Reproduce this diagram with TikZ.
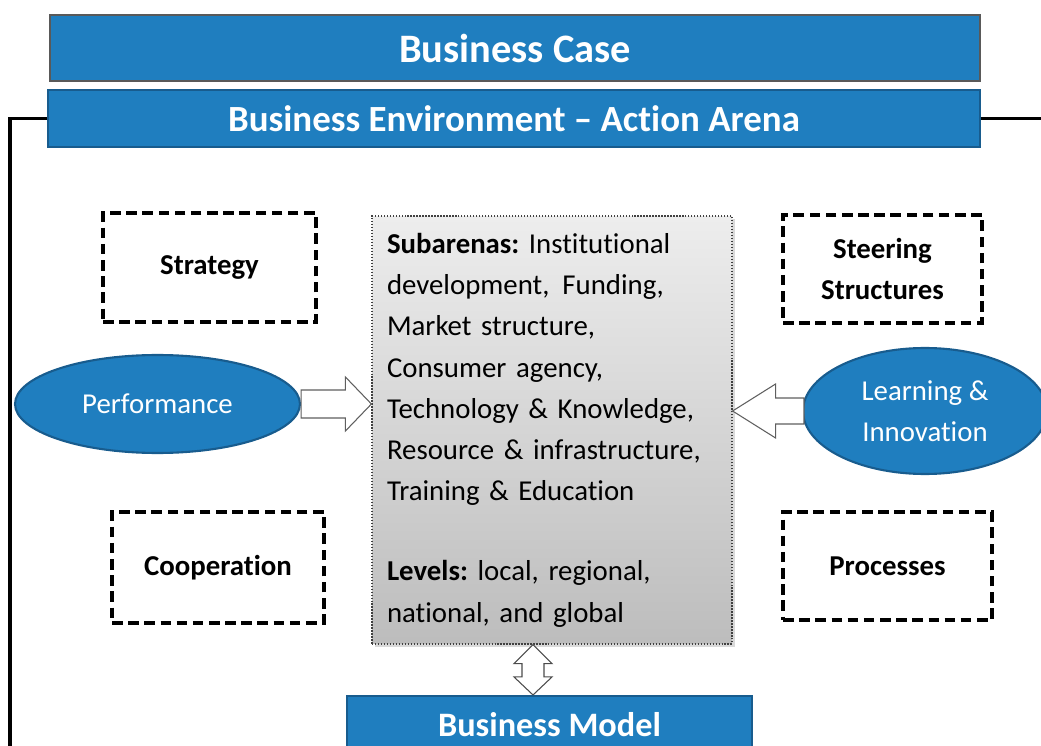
\documentclass[tikz,border=0pt]{standalone}
\usepackage{fontspec}
\setmainfont{Carlito}[RawFeature={-liga;-clig;-dlig;-calt}]
\usetikzlibrary{shapes.geometric,shadows,calc}
\definecolor{barblue}{RGB}{31,126,191}
\definecolor{bardark}{RGB}{24,92,142}
\definecolor{arrowgray}{RGB}{95,95,95}
\frenchspacing
\begin{document}
\begin{tikzpicture}[x=0.02cm,y=-0.02cm,
  bar/.style={fill=barblue, text=white, line width=0.8pt, inner sep=0pt},
  dashbox/.style={draw, line width=2pt, dash pattern=on 6pt off 3.2pt, align=center,
    font=\fontsize{16.4}{23.8}\selectfont\bfseries},
  blob/.style={ellipse, draw=bardark, line width=1.2pt, fill=barblue, text=white, inner sep=0pt,
    align=center, font=\fontsize{16.4}{23.5}\selectfont},
  arena/.style={draw=black!75, densely dotted, line width=0.7pt, top color=gray!14, bottom color=gray!52,
    drop shadow={opacity=0.3, shadow xshift=1.5pt, shadow yshift=-1.5pt},
    inner xsep=0.3cm, align=left, font=\fontsize{16.4}{23.5}\selectfont},
  blockarrow/.style={draw=arrowgray, fill=white, line width=0.6pt, line join=miter},
  frame/.style={line width=2pt}]

\useasboundingbox (0,0) rectangle (1041,746);

\node[bar, draw=black!65, minimum width=18.6cm, minimum height=1.32cm,
  font=\fontsize{23}{28}\selectfont\bfseries] (case) at (515,48) {Business Case};
\node[bar, draw=bardark, line width=1.2pt, minimum width=18.64cm, minimum height=1.14cm,
  font=\fontsize{21}{26}\selectfont\bfseries] (env) at (514,118.5) {Business Environment -- Action Arena};

\coordinate (frameL) at (10,746);
\coordinate (frameR) at (1041,118.5);
\draw[frame] (env.west) -| (frameL);
\draw[frame] (env.east) -- (frameR);

\foreach \n/\x/\y/\w/\h/\t in {strat/209.5/267.5/4.26/2.18/Strategy,
    steer/882.5/269/3.98/2.16/{Steering\\Structures},
    coop/218/567.5/4.24/2.22/Cooperation,
    proc/887.5/566/4.18/2.16/Processes}
  \node[dashbox, minimum width=\w cm, minimum height=\h cm] (\n) at (\x,\y) {\t};

\node[arena, minimum width=7.2cm, minimum height=8.56cm, text width=6.6cm] (arena) at (552,430)
  {\textbf{Subarenas:} Institutional\\development,\hspace{0.45em}Funding,\\Market structure,\\Consumer agency,\\
   Technology \& Knowledge,\\Resource \& infrastructure,\\Training \& Education\\[22pt]
   \textbf{Levels:} local, regional,\\national, and global};

\node[blob, minimum width=5.7cm, minimum height=1.96cm] (perf) at (157.5,404) {Performance};
\node[blob, minimum width=4.88cm, minimum height=2.52cm] (learn) at (925,411) {Learning \&\\Innovation};

\node[bar, draw=bardark, line width=1.2pt, minimum width=8.1cm, minimum height=1.14cm,
  font=\fontsize{19.5}{24}\selectfont\bfseries] (model) at (549.5,724.5) {Business Model};

% block arrows
\coordinate (pS) at (perf.east);
\coordinate (pT) at (perf.east -| arena.west);
\draw[blockarrow] ($(pS)+(0,-14)$) -- ($(pT)+(-26,-14)$) -- ($(pT)+(-26,-27)$) -- (pT)
  -- ($(pT)+(-26,27)$) -- ($(pT)+(-26,14)$) -- ($(pS)+(0,14)$) -- cycle;

\coordinate (lS) at ($(learn.west)+(2,0)$);
\coordinate (lT) at (learn.west -| arena.east);
\draw[blockarrow] ($(lS)+(0,-13)$) -- ($(lT)+(43,-13)$) -- ($(lT)+(43,-27)$) -- (lT)
  -- ($(lT)+(43,27)$) -- ($(lT)+(43,13)$) -- ($(lS)+(0,13)$) -- cycle;

\coordinate (mA) at ($(arena.south)+(-19,0)$);
\coordinate (mB) at (mA |- model.north);
\draw[blockarrow, draw=black!70] (mA) -- ($(mA)+(19,19)$) -- ($(mA)+(11,19)$) -- ($(mB)+(11,-18)$)
  -- ($(mB)+(19,-18)$) -- (mB) -- ($(mB)+(-19,-18)$) -- ($(mB)+(-11,-18)$)
  -- ($(mA)+(-11,19)$) -- ($(mA)+(-19,19)$) -- cycle;

\end{tikzpicture}
\end{document}
